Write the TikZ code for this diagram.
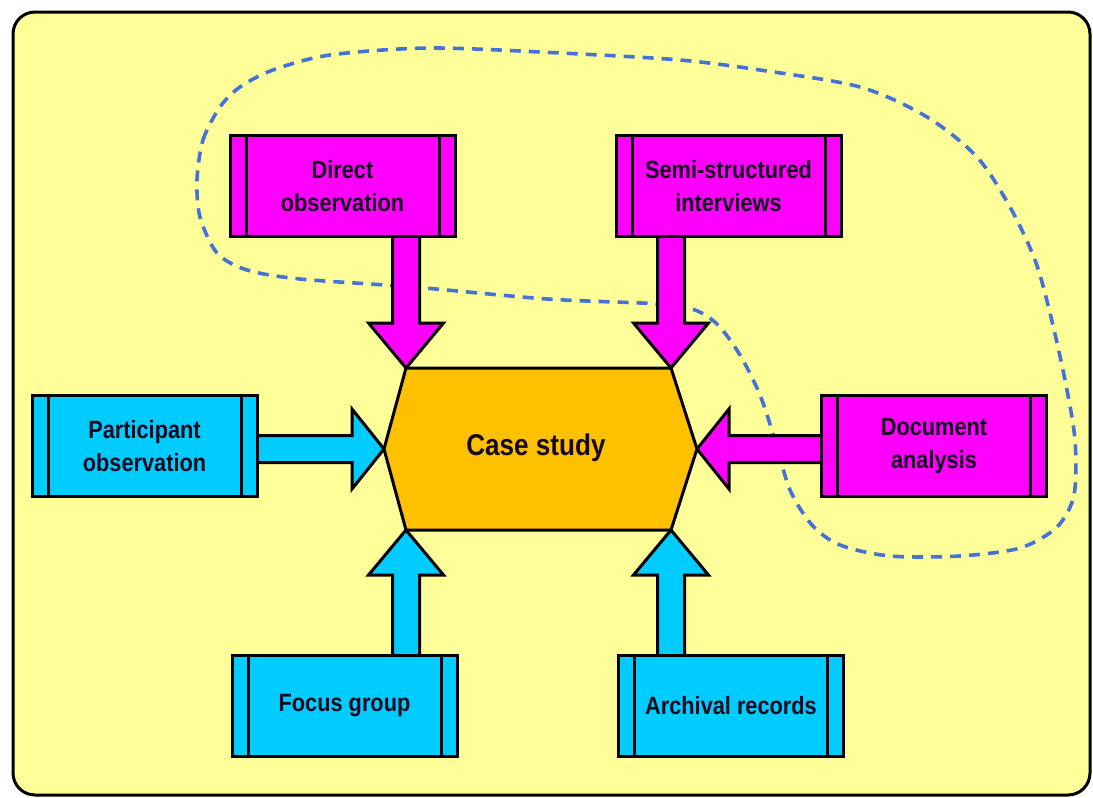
\documentclass[tikz,border=0pt]{standalone}
\usepackage{fontspec}
\newfontfamily\lblfont{Liberation Sans}[FakeStretch=0.87]
\usetikzlibrary{calc}
\pgfdeclarelayer{bg}
\pgfdeclarelayer{arrows}
\pgfsetlayers{bg,arrows,main}
\definecolor{bgyellow}{RGB}{255,255,153}
\definecolor{mag}{RGB}{255,0,255}
\definecolor{cyanbox}{RGB}{0,204,255}
\definecolor{gold}{RGB}{255,192,0}
\definecolor{dashblue}{RGB}{68,114,214}
\definecolor{txt}{RGB}{20,10,30}
\tikzset{
  srcbox/.style={draw=black, line width=3pt, minimum width=225pt, minimum height=101pt,
    inner sep=0pt, align=center, text=txt, font=\lblfont\bfseries\fontsize{25}{33}\selectfont,
    path picture={\draw[line width=3pt]
      ([xshift=16pt]path picture bounding box.north west) -- ([xshift=16pt]path picture bounding box.south west)
      ([xshift=-16pt]path picture bounding box.north east) -- ([xshift=-16pt]path picture bounding box.south east);}},
  magbox/.style={srcbox, fill=mag},
  cyanbx/.style={srcbox, fill=cyanbox},
  blockarrow/.style={draw=black, line width=3pt, line join=miter},
  hexstyle/.style={draw=black, line width=3pt, line join=miter, fill=gold},
  casetext/.style={text=txt, font=\lblfont\bfseries\fontsize{30}{36}\selectfont},
  lasso/.style={draw=dashblue, line width=3.6pt, dash pattern=on 11pt off 8pt}
}
\begin{document}
\begin{tikzpicture}[x=1pt, y=-1pt]
\useasboundingbox (0,0) rectangle (1093,798);
\begin{pgfonlayer}{bg}
  \fill[white] (0,0) rectangle (1093,798);
  \draw[fill=bgyellow, line width=3pt, rounded corners=22pt] (13,12) rectangle (1090,795);
  \draw[lasso] plot[smooth cycle, tension=0.5] coordinates {
    (197,180) (203,140) (220,107) (240,87) (273,70) (330,55) (430,48) (560,53) (680,60)
    (760,70) (860,87) (927,117) (977,157) (1010,207) (1035,260) (1050,313) (1065,380)
    (1075,440) (1074,495) (1057,527) (1020,548) (960,556) (890,556) (840,545) (812,525)
    (790,490) (775,440) (760,395) (740,355) (718,325) (695,310) (660,304) (547,299)
    (413,287) (300,279) (247,270) (217,253) (200,217)};
\end{pgfonlayer}

% hexagon vertices
\coordinate (L) at (384,449);
\coordinate (TL) at (406,368);
\coordinate (TR) at (671,368);
\coordinate (R) at (697,449);
\coordinate (BR) at (671,530);
\coordinate (BL) at (406,530);
\draw[hexstyle] (L) -- (TL) -- (TR) -- (R) -- (BR) -- (BL) -- cycle;
\node[casetext] (cs) at (536,448) {Case study};

% source boxes
\node[magbox] (D) at (342.5,186) {Direct\\observation};
\node[magbox] (S) at (728.5,186) {Semi-structured\\interviews};
\node[cyanbx] (P) at (144.5,446) {Participant\\observation};
\node[magbox] (Doc) at (934,446) {Document\\analysis};
\node[cyanbx] (F) at (344.5,705.5) {Focus group};
\node[cyanbx] (A) at (731,705.5) {Archival records};

\begin{pgfonlayer}{arrows}
  % down arrows
  \draw[blockarrow, fill=mag] ($(D.center -| TL)+(-13.5,0)$) -- ($(TL)+(-13.5,-45)$) -- ($(TL)+(-37.5,-45)$)
    -- (TL) -- ($(TL)+(37.5,-45)$) -- ($(TL)+(13.5,-45)$) -- ($(D.center -| TL)+(13.5,0)$) -- cycle;
  \draw[blockarrow, fill=mag] ($(S.center -| TR)+(-13.5,0)$) -- ($(TR)+(-13.5,-45)$) -- ($(TR)+(-37.5,-45)$)
    -- (TR) -- ($(TR)+(37.5,-45)$) -- ($(TR)+(13.5,-45)$) -- ($(S.center -| TR)+(13.5,0)$) -- cycle;
  % up arrows
  \draw[blockarrow, fill=cyanbox] ($(F.center -| BL)+(-13.5,0)$) -- ($(BL)+(-13.5,45)$) -- ($(BL)+(-37.5,45)$)
    -- (BL) -- ($(BL)+(37.5,45)$) -- ($(BL)+(13.5,45)$) -- ($(F.center -| BL)+(13.5,0)$) -- cycle;
  \draw[blockarrow, fill=cyanbox] ($(A.center -| BR)+(-13.5,0)$) -- ($(BR)+(-13.5,45)$) -- ($(BR)+(-37.5,45)$)
    -- (BR) -- ($(BR)+(37.5,45)$) -- ($(BR)+(13.5,45)$) -- ($(A.center -| BR)+(13.5,0)$) -- cycle;
  % right arrow
  \draw[blockarrow, fill=cyanbox] ($(P.center |- L)+(0,-13.5)$) -- ($(L)+(-32,-13.5)$) -- ($(L)+(-32,-40)$)
    -- (L) -- ($(L)+(-32,40)$) -- ($(L)+(-32,13.5)$) -- ($(P.center |- L)+(0,13.5)$) -- cycle;
  % left arrow
  \draw[blockarrow, fill=mag] ($(Doc.center |- R)+(0,-13.5)$) -- ($(R)+(32,-13.5)$) -- ($(R)+(32,-40)$)
    -- (R) -- ($(R)+(32,40)$) -- ($(R)+(32,13.5)$) -- ($(Doc.center |- R)+(0,13.5)$) -- cycle;
\end{pgfonlayer}
\end{tikzpicture}
\end{document}
